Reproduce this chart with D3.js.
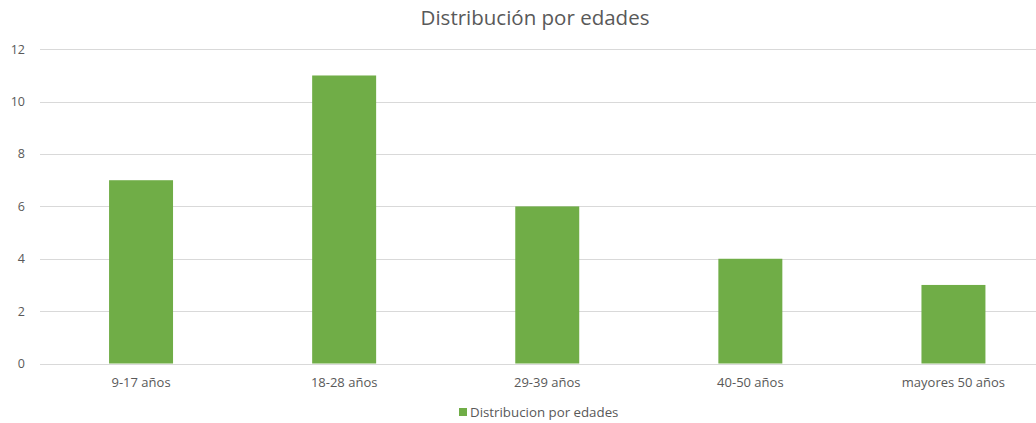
<!DOCTYPE html>
<html><head><meta charset="utf-8">
<script src="https://cdn.jsdelivr.net/npm/d3@7"></script>
<style>body{margin:0;background:#fff;} svg{display:block;font-family:"Open Sans",sans-serif;}</style>
</head><body>
<script>
const categories = ["9-17 años","18-28 años","29-39 años","40-50 años","mayores 50 años"];
const values = [7, 11, 6, 4, 3];
const yTicks = [0, 2, 4, 6, 8, 10, 12];
const seriesName = "Distribucion por edades";
const title = "Distribución por edades";

const W = 1036, H = 423;
const svg = d3.select("body").append("svg").attr("width", W).attr("height", H);
const x = d3.scaleBand().domain(categories).range([39.5, 1055]).paddingInner(0.685).paddingOuter(0.3425);
const y = d3.scaleLinear().domain([0, 12]).range([363.5, 49.3]);

svg.append("text").attr("x", 535).attr("y", 25).attr("text-anchor", "middle")
  .attr("font-size", 20.5).attr("fill", "#595959").text(title);

const g = svg.append("g");
g.selectAll(".grid").data(yTicks).join("line")
  .attr("x1", 40).attr("x2", W).attr("y1", d => Math.round(y(d)) + 0.5).attr("y2", d => Math.round(y(d)) + 0.5)
  .attr("stroke", "#d9d9d9").attr("stroke-width", 1);

g.selectAll(".ylab").data(yTicks).join("text")
  .attr("x", 25).attr("y", d => y(d)).attr("dy", "0.35em").attr("text-anchor", "end")
  .attr("font-size", 12.5).attr("fill", "#595959").text(d => d);

g.selectAll(".bar").data(values).join("rect")
  .attr("x", (d, i) => x(categories[i])).attr("width", x.bandwidth())
  .attr("y", d => y(d)).attr("height", d => y(0) - y(d)).attr("fill", "#70AD47");

g.selectAll(".xlab").data(categories).join("text")
  .attr("x", d => x(d) + x.bandwidth() / 2).attr("y", 387).attr("text-anchor", "middle")
  .attr("font-size", 13).attr("fill", "#595959").text(d => d);

const lg = svg.append("g");
lg.append("rect").attr("x", 459).attr("y", 408).attr("width", 8).attr("height", 8).attr("fill", "#70AD47");
lg.append("text").attr("x", 470).attr("y", 416.5).attr("font-size", 13.3).attr("fill", "#595959").text(seriesName);
</script>
</body></html>
